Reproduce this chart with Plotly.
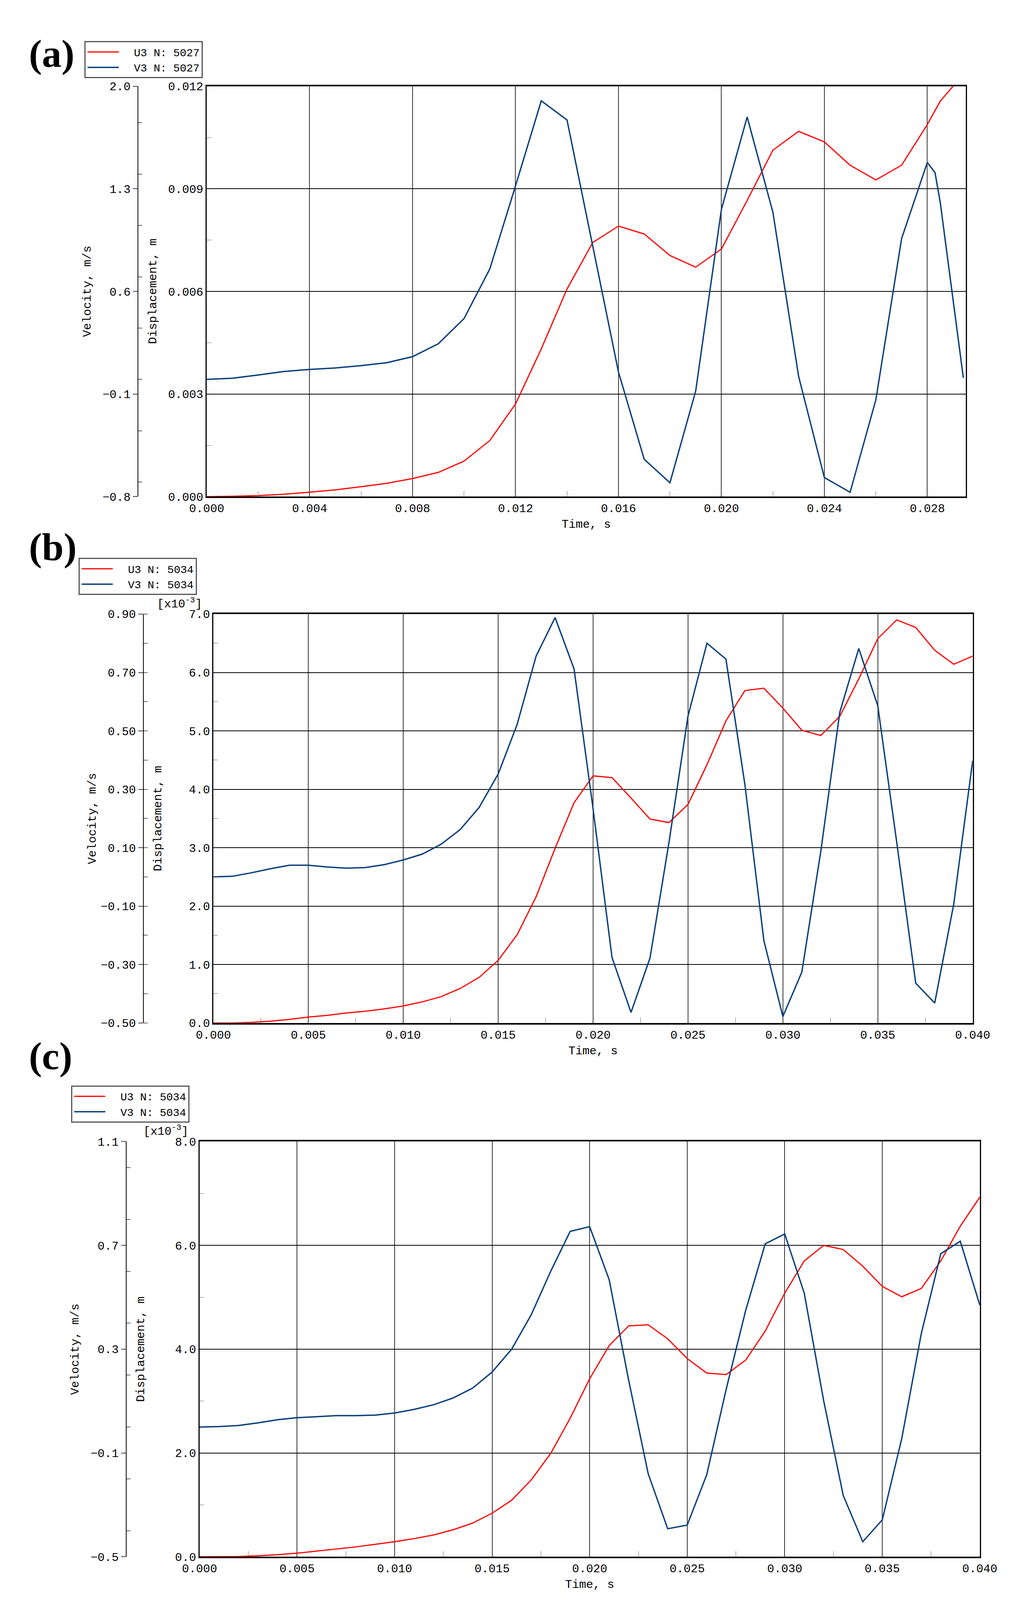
import plotly.graph_objects as go

W, H = 2626, 4993

# ---- panel (a) ----
t_a = [0.000, 0.001, 0.002, 0.003, 0.004, 0.005, 0.006, 0.007, 0.008, 0.009,
       0.010, 0.011, 0.012, 0.013, 0.014, 0.015, 0.016, 0.017, 0.018, 0.019,
       0.020, 0.021, 0.022, 0.023, 0.024, 0.025, 0.026, 0.027, 0.028, 0.0285, 0.029]
u3_a = [0.0, 0.00001, 0.00003, 0.00007, 0.00013, 0.0002, 0.00029, 0.00039, 0.00053, 0.00071,
        0.00104, 0.00164, 0.00271, 0.00432, 0.00607, 0.00743, 0.00791, 0.00768, 0.00705, 0.00671,
        0.00724, 0.00866, 0.01013, 0.01068, 0.01037, 0.00969, 0.00926, 0.00969, 0.01088, 0.01156, 0.0120]
tv_a = [0.000, 0.001, 0.002, 0.003, 0.004, 0.005, 0.006, 0.007, 0.008, 0.009,
        0.010, 0.011, 0.012, 0.013, 0.014, 0.015, 0.016, 0.017, 0.018, 0.019,
        0.020, 0.021, 0.022, 0.023, 0.024, 0.025, 0.026, 0.027, 0.028, 0.0283, 0.0285, 0.0294]
v3_a = [0.0, 0.008, 0.03, 0.054, 0.068, 0.078, 0.094, 0.114, 0.155, 0.243,
        0.415, 0.753, 1.32, 1.90, 1.77, 0.91, 0.05, -0.545, -0.705, -0.08,
        1.16, 1.79, 1.14, 0.02, -0.67, -0.77, -0.14, 0.96, 1.48, 1.41, 1.21, 0.01]

# ---- panel (b) ---- displacement in 1e-3 m
t_bc = [i / 1000 for i in range(41)]
u3_b = [0.0, 0.0, 0.01, 0.03, 0.06, 0.10, 0.13, 0.17, 0.20, 0.24,
        0.29, 0.36, 0.45, 0.59, 0.78, 1.07, 1.51, 2.16, 2.99, 3.77,
        4.23, 4.20, 3.85, 3.49, 3.43, 3.74, 4.42, 5.17, 5.69, 5.73,
        5.39, 5.01, 4.92, 5.25, 5.89, 6.58, 6.90, 6.77, 6.38, 6.14, 6.28]
v3_b = [0.0, 0.002, 0.014, 0.028, 0.04, 0.04, 0.034, 0.03, 0.032, 0.042,
        0.058, 0.078, 0.112, 0.162, 0.238, 0.352, 0.522, 0.756, 0.888, 0.712,
        0.234, -0.276, -0.464, -0.278, 0.118, 0.55, 0.80, 0.746, 0.316, -0.218,
        -0.478, -0.326, 0.088, 0.564, 0.782, 0.586, 0.118, -0.364, -0.432, -0.094, 0.398]

# ---- panel (c) ----
u3_c = [0.0, 0.0, 0.005, 0.02, 0.04, 0.07, 0.11, 0.15, 0.19, 0.24,
        0.29, 0.35, 0.42, 0.52, 0.65, 0.84, 1.09, 1.48, 1.99, 2.67,
        3.43, 4.07, 4.45, 4.47, 4.20, 3.82, 3.54, 3.51, 3.79, 4.35,
        5.08, 5.70, 6.00, 5.92, 5.60, 5.21, 5.01, 5.17, 5.70, 6.37, 6.93]
v3_c = [0.0, 0.002, 0.006, 0.016, 0.028, 0.036, 0.04, 0.044, 0.044, 0.046,
        0.054, 0.068, 0.086, 0.112, 0.15, 0.212, 0.30, 0.432, 0.60, 0.754,
        0.772, 0.568, 0.18, -0.18, -0.392, -0.378, -0.184, 0.146, 0.45, 0.706,
        0.744, 0.516, 0.10, -0.264, -0.442, -0.358, -0.044, 0.36, 0.668, 0.716, 0.47]

RED = "#ff0000"
BLUE = "#0a3f7a"
MONO = "Liberation Mono"
FS = 30

# pixel boxes: left, right, top, bottom, velocity-axis x
boxes = [(496, 2521, 244, 1541, 313),
         (514, 2539, 1912, 3204, 327),
         (477, 2558, 3579, 4891, 281)]
panels = [
    dict(tu=t_a, u=u3_a, tv=tv_a, v=v3_a, node="5027",
         xr=[0, 0.0295], xt=0.004, xf=".3f",
         dr=[0, 0.012], dt=0.003, df=".3f",
         vr=[-0.8, 2.0], vt=0.7, vf=".1f"),
    dict(tu=t_bc, u=u3_b, tv=t_bc, v=v3_b, node="5034",
         xr=[0, 0.040], xt=0.005, xf=".3f",
         dr=[0, 7.0], dt=1.0, df=".1f",
         vr=[-0.5, 0.9], vt=0.2, vf=".2f"),
    dict(tu=t_bc, u=u3_c, tv=t_bc, v=v3_c, node="5034",
         xr=[0, 0.040], xt=0.005, xf=".3f",
         dr=[0, 8.0], dt=2.0, df=".1f",
         vr=[-0.5, 1.1], vt=0.4, vf=".1f"),
]
legend_x = [170, 154, 134]
legend_gap = [25, 60, 60]
letters = ["(a)", "(b)", "(c)"]
letter_y = [70, 1700, 3380]

fig = go.Figure()
layout = dict(autosize=True, margin=dict(l=0, r=0, t=0, b=0),
              plot_bgcolor="white", paper_bgcolor="white", showlegend=True)
annotations = []

for i, (p, (l, r, tp, bt, vx)) in enumerate(zip(panels, boxes)):
    n = i + 1
    xa = "x" if n == 1 else f"x{n}"
    yd = 2 * n - 1
    yv = 2 * n
    ya_d = "y" if yd == 1 else f"y{yd}"
    ya_v = f"y{yv}"
    leg = "legend" if n == 1 else f"legend{n}"

    fig.add_trace(go.Scatter(x=p["tu"], y=p["u"], mode="lines", name="  U3 N: " + p["node"],
                             line=dict(color=RED, width=3), xaxis=xa, yaxis=ya_d, legend=leg))
    fig.add_trace(go.Scatter(x=p["tv"], y=p["v"], mode="lines", name="  V3 N: " + p["node"],
                             line=dict(color=BLUE, width=3.5), xaxis=xa, yaxis=ya_v, legend=leg))

    xdom = [l / W, r / W]
    ydom = [1 - bt / H, 1 - tp / H]
    xkey = "xaxis" if n == 1 else f"xaxis{n}"
    layout[xkey] = dict(domain=xdom, anchor=ya_d, range=p["xr"], dtick=p["xt"], tick0=0,
                        tickformat=p["xf"], showgrid=True, gridcolor="#333333", gridwidth=1.5,
                        zeroline=False, showline=True, linecolor="black", linewidth=4,
                        mirror=True, ticks="", ticklen=0,
                        minor=dict(ticks="inside", ticklen=14, tickcolor="#666", dtick=p["xt"] / 2),
                        tickfont=dict(family=MONO, size=FS, color="black"),
                        title=dict(text="Time, s", font=dict(family=MONO, size=FS, color="black"),
                                   standoff=12))
    dkey = "yaxis" if yd == 1 else f"yaxis{yd}"
    layout[dkey] = dict(domain=ydom, anchor=xa, range=p["dr"], dtick=p["dt"], tick0=0,
                        tickformat=p["df"], showgrid=True, gridcolor="black", gridwidth=2,
                        zeroline=False, showline=True, linecolor="black", linewidth=2.5,
                        mirror=True, ticks="", ticklen=0,
                        minor=dict(ticks="inside", ticklen=12, tickcolor="#666", dtick=p["dt"] / 2),
                        tickfont=dict(family=MONO, size=FS, color="black"))
    layout[f"yaxis{yv}"] = dict(overlaying=ya_d, anchor="free", position=vx / W, side="left",
                                range=p["vr"], dtick=p["vt"], tick0=p["vr"][0],
                                tickformat=p["vf"], showgrid=False, zeroline=False,
                                showline=True, linecolor="black", linewidth=2,
                                ticks="outside", ticklen=12, tickwidth=2,
                                minor=dict(ticks="inside", ticklen=10, tickcolor="#666", dtick=p["vt"] / 2),
                                tickfont=dict(family=MONO, size=FS, color="black"))

    layout[leg] = dict(x=legend_x[i] / W, y=1 - (tp - legend_gap[i]) / H,
                       xanchor="left", yanchor="bottom", bgcolor="white",
                       bordercolor="#555", borderwidth=3,
                       font=dict(family=MONO, size=FS - 2, color="black"),
                       itemwidth=80, tracegroupgap=0)

    ymid = 1 - (tp + bt) / 2 / H
    annotations.append(dict(text="Velocity, m/s", x=(vx - 135) / W, y=ymid, xref="paper", yref="paper",
                            xanchor="center", yanchor="middle", textangle=-90, showarrow=False,
                            font=dict(family=MONO, size=FS, color="black")))
    annotations.append(dict(text="Displacement, m", x=(vx + 40) / W, y=ymid, xref="paper", yref="paper",
                            xanchor="center", yanchor="middle", textangle=-90, showarrow=False,
                            font=dict(family=MONO, size=FS, color="black")))
    annotations.append(dict(text="<b>" + letters[i] + "</b>", x=20 / W, y=1 - letter_y[i] / H,
                            xref="paper", yref="paper", xanchor="left", showarrow=False,
                            font=dict(family="Liberation Serif", size=100, color="black")))
    if n > 1:
        annotations.append(dict(text="[x10<sup>-3</sup>]", x=(l - 90) / W, y=1 - tp / H,
                                xref="paper", yref="paper", xanchor="center", yanchor="bottom",
                                yshift=6, showarrow=False,
                                font=dict(family=MONO, size=FS, color="black")))

layout["annotations"] = annotations
fig.update_layout(**layout)
fig.write_html("out.html")
